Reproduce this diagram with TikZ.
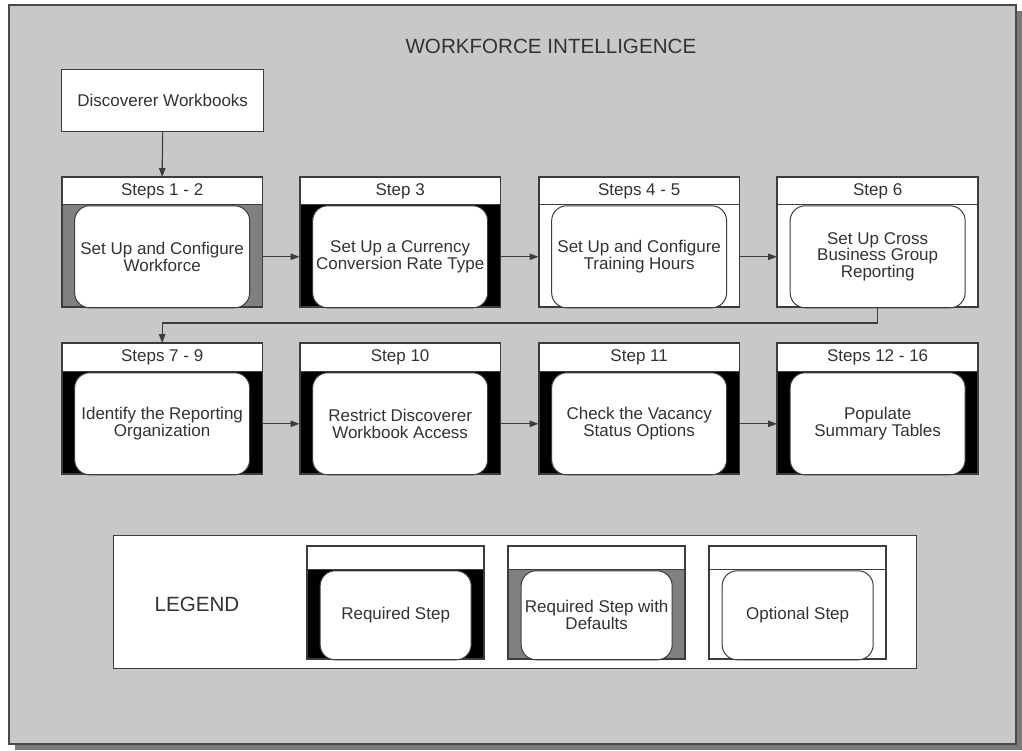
\documentclass[tikz,border=0pt]{standalone}
\usepackage{fontspec}
\setmainfont{Liberation Sans}
\usetikzlibrary{arrows.meta,calc}
\definecolor{bgc}{HTML}{C8C8C8}
\definecolor{dflt}{HTML}{808080}
\definecolor{linec}{HTML}{3C3C3C}
\definecolor{framec}{HTML}{4A4A4A}
\definecolor{txtc}{HTML}{333333}
\definecolor{shadowc}{HTML}{7A7A7A}
\newcommand{\bodyfont}{\fontsize{17}{16.8}\selectfont}
\newcommand{\bigfont}{\fontsize{20.6}{22}\selectfont}
% #1 name, #2 left x, #3 top y, #4 header h, #5 total h, #6 width, #7 fill, #8 header, #9 body
\newcommand{\stepbox}[9]{%
  \node[outerbox, fill=#7, minimum width=#6pt, minimum height=#5pt, anchor=north west] (#1) at (#2,#3) {};
  \node[hdrbox, minimum width=#6pt, minimum height=#4pt, anchor=north west] (#1h) at (#2,#3) {#8};
  \node[innerbox, minimum width={(#6-25)*1pt}, minimum height={(#5-#4)*1pt}, anchor=north] (#1i) at (#1h.south) {#9};
  \draw[outerline] (#1.north west) rectangle (#1.south east);
}
\begin{document}
\begin{tikzpicture}[x=1pt,y=-1pt,
  outerbox/.style={draw=linec,line width=1.3pt,rectangle,inner sep=0pt},
  outerline/.style={draw=linec,line width=1.3pt},
  hdrbox/.style={draw=linec,line width=1.3pt,fill=white,rectangle,inner sep=0pt,text=txtc,font=\bodyfont},
  innerbox/.style={draw=linec,line width=1pt,fill=white,rounded corners=15pt,rectangle,inner sep=0pt,text=txtc,font=\bodyfont,align=center},
  conn/.style={draw=linec,line width=1.2pt,-{Triangle[length=9pt,width=6.5pt]}},
  plainbox/.style={draw=linec,line width=1.3pt,fill=white,rectangle,inner sep=0pt,text=txtc},
]
\useasboundingbox (0,0) rectangle (1022,751);
\fill[white] (0,0) rectangle (1022,751);
% frame with shadow
\fill[shadowc] (15,11) rectangle (1022,750);
\draw[draw=framec, fill=bgc, line width=2pt] (9,5) rectangle (1016,744);

\node[text=txtc,font=\bigfont,anchor=west] (title) at (402,46) {WORKFORCE INTELLIGENCE};

\node[plainbox,minimum width=202pt,minimum height=62pt,anchor=north west,font=\bodyfont] (disc) at (61,69) {Discoverer Workbooks};

% row 1
\stepbox{s1}{61.5}{177}{27}{129}{200}{dflt}{Steps 1 - 2}{Set Up and Configure\\Workforce}
\stepbox{s2}{299.5}{177}{27}{129}{200}{black}{Step 3}{Set Up a Currency\\Conversion Rate Type}
\stepbox{s3}{538.5}{177}{27}{129}{200}{white}{Steps 4 - 5}{Set Up and Configure\\Training Hours}
\stepbox{s4}{777}{177}{27}{129}{200}{white}{Step 6}{Set Up Cross\\Business Group\\Reporting}
% row 2
\stepbox{s5}{61.5}{343}{28}{130}{200}{black}{Steps 7 - 9}{Identify the Reporting\\Organization}
\stepbox{s6}{299.5}{343}{28}{130}{200}{black}{Step 10}{Restrict Discoverer\\Workbook Access}
\stepbox{s7}{538.5}{343}{28}{130}{200}{black}{Step 11}{Check the Vacancy\\Status Options}
\stepbox{s8}{777}{343}{28}{130}{200}{black}{Steps 12 - 16}{Populate\\Summary Tables}

% connectors
\draw[conn] (disc.south) -- (s1.north);
\draw[conn] (s1i.center -| s1.east) -- (s1i.center -| s2.west);
\draw[conn] (s2i.center -| s2.east) -- (s2i.center -| s3.west);
\draw[conn] (s3i.center -| s3.east) -- (s3i.center -| s4.west);
\draw[conn] (s4.south) |- ([yshift=20pt]s5.north) -- (s5.north);
\draw[conn] (s5i.center -| s5.east) -- (s5i.center -| s6.west);
\draw[conn] (s6i.center -| s6.east) -- (s6i.center -| s7.west);
\draw[conn] (s7i.center -| s7.east) -- (s7i.center -| s8.west);

% legend
\node[plainbox,minimum width=803pt,minimum height=133pt,anchor=north west] (leg) at (113,535) {};
\node[text=txtc,font=\bigfont] (legt) at (197,604) {LEGEND};
\stepbox{l1}{307}{546}{23}{112}{176}{black}{}{Required Step}
\stepbox{l2}{508}{546}{23}{112}{176}{dflt}{}{Required Step with\\Defaults}
\stepbox{l3}{709}{546}{23}{112}{176}{white}{}{Optional Step}
\end{tikzpicture}
\end{document}
